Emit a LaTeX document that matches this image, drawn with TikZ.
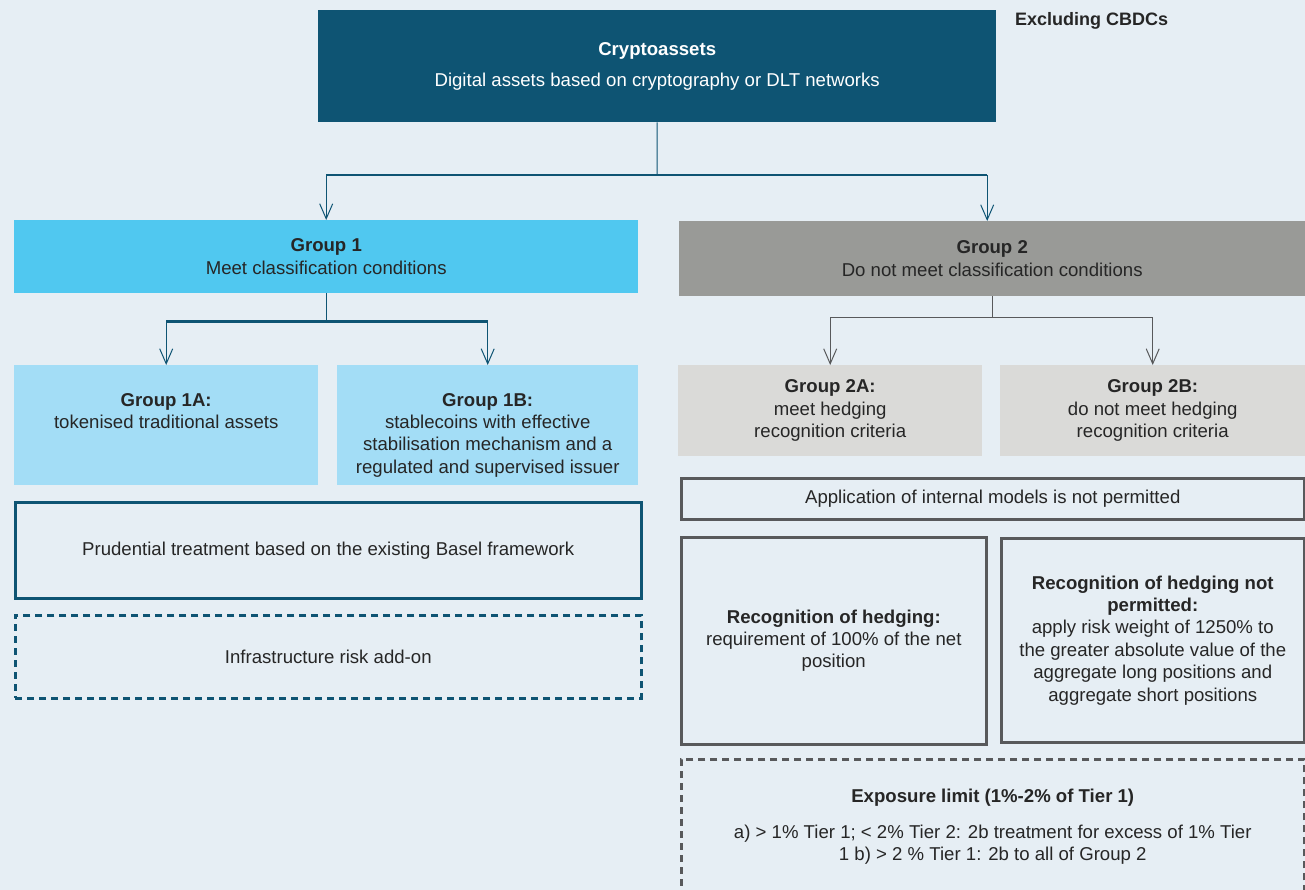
\documentclass[tikz,border=0pt]{standalone}
\usepackage{fontspec}
\setmainfont{Liberation Sans}
\usetikzlibrary{
positioning,
arrows.meta,
}
\definecolor{bgblue}{HTML}{E6EEF4}
\definecolor{deepteal}{HTML}{0E5473}
\definecolor{skyblue}{HTML}{50C8F0}
\definecolor{paleblue}{HTML}{A3DDF6}
\definecolor{midgrey}{HTML}{999A97}
\definecolor{palegrey}{HTML}{DADAD8}
\definecolor{edgegrey}{HTML}{58595B}
\definecolor{inkgrey}{HTML}{262626}
\tikzset{
node distance=1em,
every node/.style={align=center, inner sep=0pt, text=inkgrey,
  font=\fontsize{18.6}{22.4}\selectfont},
box/.style={rectangle, anchor=north west},
sized/.style 2 args={minimum width=#1, minimum height=#2},
tealframe/.style={box, draw=deepteal, line width=2.5pt},
greyframe/.style={box, draw=edgegrey, line width=2.5pt},
tealdash/.style={tealframe, dash pattern=on 7pt off 5pt},
greydash/.style={greyframe, dash pattern=on 7pt off 5pt},
link/.style={line width=1pt},
bar/.style={line width=2.2pt},
>={Straight Barb[length=15pt, width=13pt]},
}
\begin{document}
\begin{tikzpicture}[x=1pt, y=-1pt]
\path[use as bounding box, fill=bgblue] (0,0) rectangle (1305,890);
\clip (0,0) rectangle (1305,890);
% top
\node (crypto) [box, fill=deepteal, sized={678pt}{112pt}, text=white] at (318,10)
    {\textbf{Cryptoassets}\\[9pt]Digital assets based on cryptography or DLT networks};
\node (excl) [anchor=west, font=\fontsize{18}{20}\selectfont\bfseries] at (1015,21) {Excluding CBDCs};
% groups
\node (grp1) [box, fill=skyblue, sized={624pt}{73pt}] at (14,220)
    {\textbf{Group 1}\\Meet classification conditions};
\node (grp2) [box, fill=midgrey, sized={626pt}{75pt}] at (679,221)
    {\textbf{Group 2}\\Do not meet classification conditions};
% group 1 side
\node (g1a) [box, fill=paleblue, sized={304pt}{120pt}] at (14,365) {};
\node (g1a-txt) [below=28pt of g1a.north]
    {\textbf{Group 1A:}\\tokenised traditional assets};
\node (g1b) [box, fill=paleblue, sized={301pt}{120pt}] at (337,365) {};
\node (g1b-txt) [below=28pt of g1b.north]
    {\textbf{Group 1B:}\\stablecoins with effective\\stabilisation mechanism and a\\regulated and supervised issuer};
\node (basel) [tealframe, sized={626pt}{96pt}] at (14,501)
    {Prudential treatment based on the existing Basel framework};
\node (infra) [tealdash, sized={626pt}{83pt}] at (14,614)
    {Infrastructure risk add-on};
% group 2 side
\node (g2a) [box, fill=palegrey, sized={304pt}{91pt}] at (678,365)
    {\textbf{Group 2A:}\\meet hedging\\recognition criteria};
\node (g2b) [box, fill=palegrey, sized={305pt}{91pt}] at (1000,365)
    {\textbf{Group 2B:}\\do not meet hedging\\recognition criteria};
\node (intmod) [greyframe, sized={623pt}{41pt}] at (680,477)
    {Application of internal models is not permitted};
\node (hedge) [greyframe, sized={305pt}{207pt}] at (680,536)
    {\textbf{Recognition of hedging:}\\requirement of 100\% of the net\\position};
\node (nohedge) [greyframe, sized={303pt}{204pt}] at (1000,537)
    {\textbf{Recognition of hedging not}\\\textbf{permitted:}\\apply risk weight of 1250\% to\\the greater absolute value of the\\aggregate long positions and\\aggregate short positions};
\node (limit) [greydash, sized={623pt}{170pt}] at (680,758) {};
\node (limit-txt) [below=31pt of limit.north]
    {\textbf{Exposure limit (1\%-2\% of Tier 1)}\\[13pt]a) > 1\% Tier 1; < 2\% Tier 2: 2b treatment for excess of 1\% Tier\\1 b) > 2 \% Tier 1: 2b to all of Group 2};
% connectors
\coordinate (fork1) at (657,175);
\coordinate (fork2) at ([yshift=-28pt]grp1.south);
\coordinate (fork3) at ([yshift=-21pt]grp2.south);
\begin{scope}[draw=deepteal]
\draw[link] (crypto.south) -- (fork1);
\draw[bar] (fork1 -| grp1.north) -- ([xshift=-5pt]fork1 -| grp2.north);
\draw[link,->] (fork1 -| grp1.north) -- (grp1.north);
\draw[link,->] ([xshift=-5pt]fork1 -| grp2.north) -- ([xshift=-5pt]grp2.north);
\draw[link] (grp1.south) -- (fork2);
\draw[bar] (fork2 -| g1a.north) -- (fork2 -| g1b.north);
\draw[link,->] (fork2 -| g1a.north) -- (g1a.north);
\draw[link,->] (fork2 -| g1b.north) -- (g1b.north);
\end{scope}
\begin{scope}[draw=edgegrey]
\draw[link] (grp2.south) -- (fork3);
\draw[bar, line width=1.6pt] (fork3 -| g2a.north) -- (fork3 -| g2b.north);
\draw[link,->] (fork3 -| g2a.north) -- (g2a.north);
\draw[link,->] (fork3 -| g2b.north) -- (g2b.north);
\end{scope}
\end{tikzpicture}
\end{document}
